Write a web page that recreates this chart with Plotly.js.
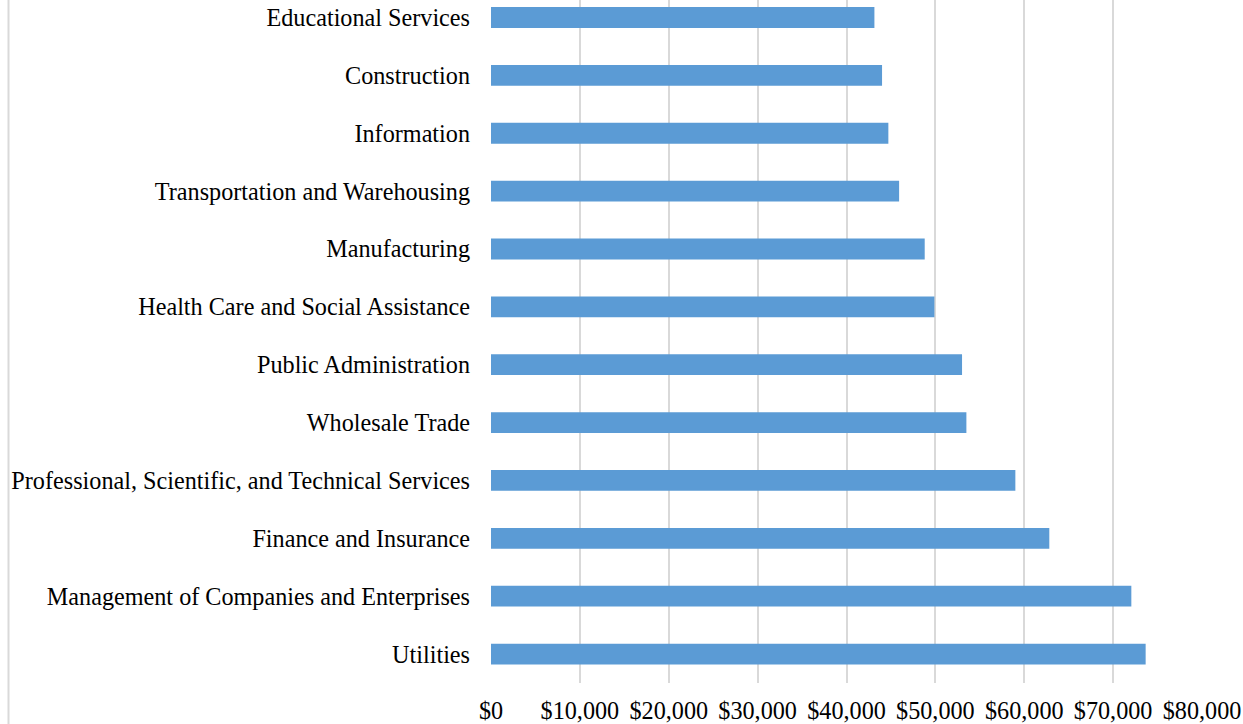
<!DOCTYPE html>
<html>
<head>
<meta charset="utf-8">
<script src="https://cdn.plot.ly/plotly-3.0.1.min.js"></script>
<style>html,body{margin:0;padding:0;background:#fff;}#chart{width:1243px;height:724px;}</style>
</head>
<body>
<div id="chart"></div>
<script>
// Bottom to top order
const categories = [
  "Utilities",
  "Management of Companies and Enterprises",
  "Finance and Insurance",
  "Professional, Scientific, and Technical Services",
  "Wholesale Trade",
  "Public Administration",
  "Health Care and Social Assistance",
  "Manufacturing",
  "Transportation and Warehousing",
  "Information",
  "Construction",
  "Educational Services"
];
const wages = [73660, 72050, 62820, 59000, 53490, 53000, 49890, 48800, 45920, 44710, 44000, 43140];
const tickValues = [0, 10000, 20000, 30000, 40000, 50000, 60000, 70000, 80000];
const tickLabels = ["$0", "$10,000", "$20,000", "$30,000", "$40,000", "$50,000", "$60,000", "$70,000", "$80,000"];

const font = {family: "Liberation Serif, Times New Roman, serif", size: 24.2, color: "#000000"};

Plotly.newPlot("chart", [{
  type: "bar",
  orientation: "h",
  y: categories,
  x: wages,
  width: 0.36,
  marker: {color: "#5b9bd5", line: {color: "#5b9bd5", width: 0}},
  hoverinfo: "x+y"
}], {
  width: 1243,
  height: 724,
  margin: {l: 491, r: 41, t: 0, b: 41, pad: 0},
  paper_bgcolor: "#ffffff",
  plot_bgcolor: "#ffffff",
  showlegend: false,
  font: font,
  xaxis: {
    range: [0, 80000],
    tickvals: tickValues,
    ticktext: tickLabels,
    showgrid: true,
    gridcolor: "#d9d9d9",
    gridwidth: 2,
    zeroline: false,
    showline: false,
    ticks: "",
    ticklabelstandoff: 11,
    tickfont: font,
    fixedrange: true
  },
  yaxis: {
    type: "category",
    range: [-0.5, 11.302],
    showgrid: false,
    zeroline: false,
    showline: false,
    ticks: "",
    ticklabelstandoff: 20,
    tickfont: font,
    fixedrange: true
  },
  shapes: [{
    type: "line",
    xref: "paper", yref: "paper",
    x0: (8.5 - 491) / 711, x1: (8.5 - 491) / 711,
    y0: -1, y1: 1.1,
    line: {color: "#d9d9d9", width: 2}
  }]
}, {displayModeBar: false, staticPlot: true});
</script>
</body>
</html>
